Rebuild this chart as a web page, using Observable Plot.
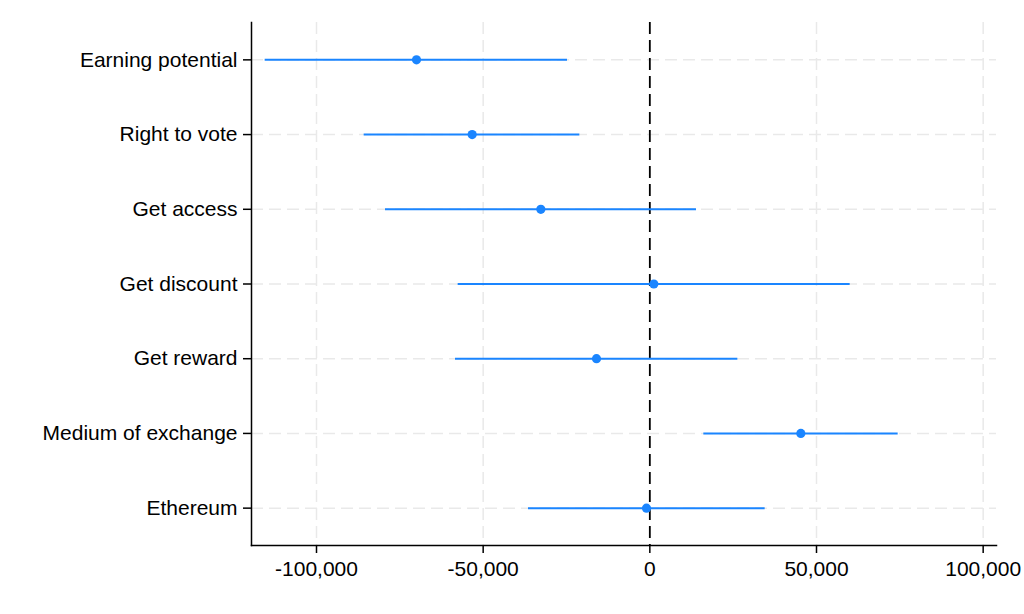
<!DOCTYPE html>
<html>
<head>
<meta charset="utf-8">
<script src="https://cdn.jsdelivr.net/npm/d3@7"></script>
<script src="https://cdn.jsdelivr.net/npm/@observablehq/plot@0.6"></script>
<style>
  html, body { margin: 0; padding: 0; background: #fff; }
  #chart svg { font-family: Arial, "Liberation Sans", sans-serif; }
</style>
</head>
<body>
<div id="chart"></div>
<script>
const labels = ["Earning potential", "Right to vote", "Get access", "Get discount", "Get reward", "Medium of exchange", "Ethereum"];
const estimate = [-70000, -53300, -32700, 1200, -16000, 45300, -1000];
const lower = [-115400, -85700, -79300, -57500, -58300, 16200, -36400];
const upper = [-24700, -21000, 14000, 60100, 26400, 74500, 34600];
const xTicks = [-100000, -50000, 0, 50000, 100000];
const gridTicks = [-100000, -50000, 50000, 100000];

const data = labels.map((label, i) => ({label, est: estimate[i], lo: lower[i], hi: upper[i]}));

const blue = "#1a85ff";
const gridColor = "#e9e9e9";

const chart = Plot.plot({
  width: 1024,
  height: 614,
  marginLeft: 251,
  marginRight: 28,
  marginTop: 22,
  marginBottom: 69,
  style: {fontFamily: "Arial, 'Liberation Sans', sans-serif", fontSize: "21px", color: "#000", background: "#fff"},
  x: {domain: [-119500, 104000]},
  y: {domain: labels, type: "point", padding: 0.5, round: false},
  marks: [
    Plot.gridX(gridTicks, {stroke: gridColor, strokeOpacity: 1, strokeWidth: 1.5, strokeDasharray: "12,6"}),
    Plot.gridY(labels, {stroke: gridColor, strokeOpacity: 1, strokeWidth: 1.5, strokeDasharray: "12,6"}),
    Plot.ruleX([0], {stroke: "#000", strokeWidth: 1.8, strokeDasharray: "12,6"}),
    Plot.ruleY(data, {y: "label", x1: "lo", x2: "hi", stroke: blue, strokeWidth: 2}),
    Plot.dot(data, {x: "est", y: "label", r: 4.6, fill: blue, stroke: "none"}),
    Plot.frame({anchor: "left", stroke: "#000", strokeWidth: 1.5}),
    Plot.frame({anchor: "bottom", stroke: "#000", strokeWidth: 1.5}),
    Plot.axisX(xTicks, {tickSize: 8, tickPadding: 8, fontSize: 21, stroke: "#000", strokeWidth: 1.5, fill: "#000", tickFormat: d => d.toLocaleString("en-US"), label: null}),
    Plot.axisY(labels, {tickSize: 8, tickPadding: 6, fontSize: 21, stroke: "#000", strokeWidth: 1.5, fill: "#000", label: null})
  ]
});
document.getElementById("chart").appendChild(chart);
</script>
</body>
</html>
